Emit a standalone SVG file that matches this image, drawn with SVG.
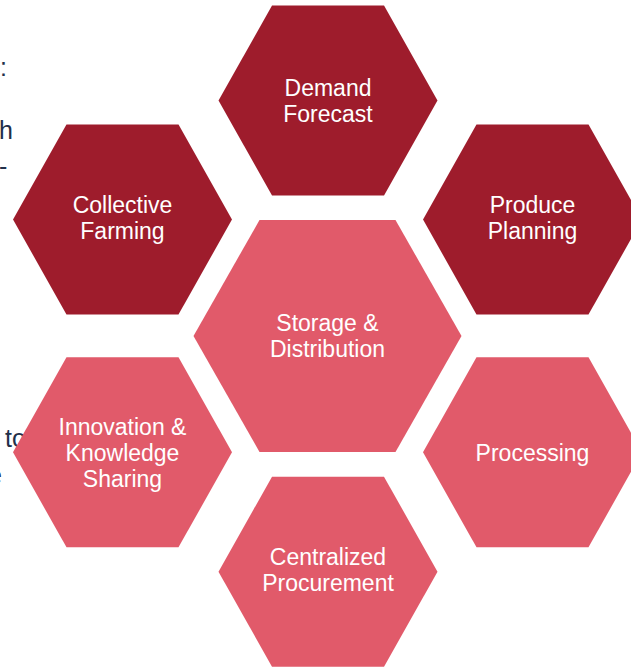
<svg xmlns="http://www.w3.org/2000/svg" xmlns:xlink="http://www.w3.org/1999/xlink" width="631" height="667" viewBox="0 0 631 667">
  <style>
    .dark { fill: #9E1C2C; }
    .light { fill: #E15A6A; }
    .lbl { font-family: "Liberation Sans", Arial, sans-serif; font-size: 23px; fill: #FFFFFF; text-anchor: middle; }
    .bg { font-family: "Liberation Sans", Arial, sans-serif; font-size: 25px; fill: #22304A; }
  </style>
  <defs>
    <polygon id="hex" points="-56,-95 56,-95 109.5,0 56,95 -56,95 -109.5,0"/>
    <polygon id="hexBig" points="-68,-116 68,-116 134,0 68,116 -68,116 -134,0"/>
  </defs>
  <rect width="631" height="667" fill="#FFFFFF"/>
  <g id="background-text">
    <text class="bg" x="0" y="76">:</text>
    <text class="bg" x="-1" y="139">h</text>
    <text class="bg" x="-1" y="175">-</text>
    <text class="bg" x="5" y="447">to</text>
    <text class="bg" x="-12" y="484">e</text>
  </g>
  <g id="connectors"></g>
  <g id="demand-forecast">
    <use xlink:href="#hex" class="dark" transform="translate(328,100.5)"/>
    <text class="lbl" x="328" y="96">Demand</text>
    <text class="lbl" x="328" y="122">Forecast</text>
  </g>
  <g id="collective-farming">
    <use xlink:href="#hex" class="dark" transform="translate(122.5,219.5)"/>
    <text class="lbl" x="122.5" y="213">Collective</text>
    <text class="lbl" x="122.5" y="239">Farming</text>
  </g>
  <g id="produce-planning">
    <use xlink:href="#hex" class="dark" transform="translate(532.5,219.5)"/>
    <text class="lbl" x="532.5" y="213">Produce</text>
    <text class="lbl" x="532.5" y="239">Planning</text>
  </g>
  <g id="storage-distribution">
    <use xlink:href="#hexBig" class="light" transform="translate(327.5,336)"/>
    <text class="lbl" x="327.5" y="331">Storage &amp;</text>
    <text class="lbl" x="327.5" y="357">Distribution</text>
  </g>
  <g id="innovation-knowledge-sharing">
    <use xlink:href="#hex" class="light" transform="translate(122.5,452.3)"/>
    <text class="lbl" x="122.5" y="434.5">Innovation &amp;</text>
    <text class="lbl" x="122.5" y="460.7">Knowledge</text>
    <text class="lbl" x="122.5" y="486.7">Sharing</text>
  </g>
  <g id="processing">
    <use xlink:href="#hex" class="light" transform="translate(532.5,452.3)"/>
    <text class="lbl" x="532.5" y="460.7">Processing</text>
  </g>
  <g id="centralized-procurement">
    <use xlink:href="#hex" class="light" transform="translate(328,571.7)"/>
    <text class="lbl" x="328" y="565">Centralized</text>
    <text class="lbl" x="328" y="591">Procurement</text>
  </g>
</svg>
